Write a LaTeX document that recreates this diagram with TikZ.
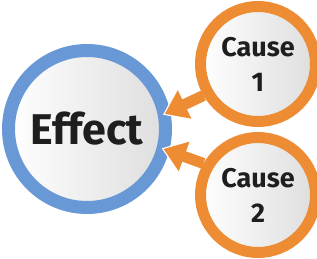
\documentclass[tikz,border=0pt]{standalone}
\usepackage{fontspec}
\setmainfont{Fira Sans}
\usetikzlibrary{arrows.meta}
\definecolor{ringblue}{RGB}{104,152,214}
\definecolor{ringorange}{RGB}{238,140,52}
\definecolor{txtgray}{RGB}{30,30,30}
\pgfdeclarelayer{front}
\pgfsetlayers{main,front}

\begin{document}
\begin{tikzpicture}[x=1pt, y=1pt,
    ball/.style={circle, left color=white, right color=black!13, text=txtgray,
      font=\bfseries, align=center},
    push/.style={ringorange, line width=11pt, shorten >=-6pt,
      -{Triangle[width=30pt, length=22pt]}},
    pushrim/.style={white, line width=14pt, shorten >=-8pt,
      -{Triangle[width=35pt, length=25pt]}}]
  \useasboundingbox (0,0) rectangle (317,258);
  \node[ball, draw=ringblue, line width=13pt, minimum size=157pt,
    font=\fontsize{43}{50}\selectfont\bfseries] (effect) at (87,129) {Effect};
  % causes sit on top of the arrows
  \begin{pgfonlayer}{front}
    \node[ball, draw=ringorange, line width=11pt, minimum size=115pt,
      font=\fontsize{27}{35}\selectfont\bfseries] (cause1) at (258,194) {Cause\\1};
    \node[ball, draw=ringorange, line width=11pt, minimum size=115pt,
      font=\fontsize{27}{35}\selectfont\bfseries] (cause2) at (258,63) {Cause\\2};
  \end{pgfonlayer}
  \draw[pushrim] (cause1.210) -- (effect.12);
  \draw[pushrim] (cause2.150) -- (effect.345);
  \draw[push] (cause1.210) -- (effect.12);
  \draw[push] (cause2.150) -- (effect.345);
\end{tikzpicture}
\end{document}
